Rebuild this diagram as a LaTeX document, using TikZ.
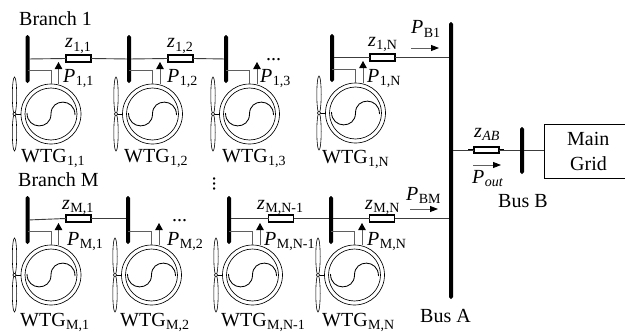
\documentclass[tikz,border=0pt]{standalone}
\usepackage{fontspec}
\setmainfont{Liberation Serif}
\usepackage{xcolor}
\definecolor{wiregray}{RGB}{60,60,60}
\definecolor{stubgray}{RGB}{95,95,95}
\usetikzlibrary{arrows.meta}
\tikzset{
    wire/.style={line width=0.9pt,draw=wiregray},
    lead/.style={line width=1.6pt},
    stub/.style={line width=0.9pt,draw=stubgray},
    busbar/.style={fill=black,rounded corners=1.9pt,minimum width=4pt,inner sep=0pt,outer sep=0pt},
    imped/.style={draw,line width=1.8pt,fill=white,minimum width=25pt,minimum height=6.5pt,inner sep=0pt,outer sep=0pt},
    flow/.style={line width=0.9pt,draw=stubgray,-{Triangle[length=7pt,width=7.5pt,color=black,fill=black]}},
    hflow/.style={line width=0.9pt,draw=stubgray,-{Triangle[length=8pt,width=6pt,color=black,fill=black]}},
    gen/.style={draw,circle,line width=0.65pt,inner sep=0pt,outer sep=0pt},
    blade/.style={line width=0.6pt},
    lab/.style={inner sep=0pt,anchor=base west,font=\fontsize{20}{20}\selectfont},
    gridbox/.style={draw,line width=0.8pt,minimum width=84pt,minimum height=54pt,inner sep=0pt}
}
\newcommand{\sbs}[1]{\kern0.4pt\raisebox{-3.2pt}{\fontsize{14}{14}\selectfont #1}}
\newcommand{\pw}[1]{\textit{P}\sbs{#1}}
\newcommand{\zz}[1]{\textit{z}\sbs{#1}}
% turbine with its bus: #1 name, #2 bus x, #3 generator centre y
\newcommand{\wtg}[3]{
    \begin{scope}[shift={(#2,#3)}]
    \node[busbar,minimum height=48pt] (bus#1) at (0,-55) {};
    \node[gen,minimum size=60pt] (gen#1) at (23.5,0) {};
    \node[gen,minimum size=52pt] (rot#1) at (23.5,0) {};
    \coordinate (hub#1) at (-13,0);
    \draw[blade] (-13,-18.5) ellipse [x radius=2.2,y radius=18.5];
    \draw[blade] (-13,18.5) ellipse [x radius=2.2,y radius=18.5];
    \draw[blade] (hub#1) -- (gen#1.west);
    \node[draw,circle,fill=white,line width=0.5pt,minimum size=3.6pt,inner sep=0pt] (nose#1) at (hub#1) {};
    \draw[line width=0.85pt] (-0.5,-1) .. controls (-0.5,16) and (23.5,16) .. (23.5,0) .. controls (23.5,-16) and (47.5,-16) .. (47.5,1);
    \draw[stub] (bus#1.center) ++(0,11) -| (gen#1.north);
    \coordinate (fb#1) at (31,-30.5);
    \coordinate (ft#1) at (31,-52);
    \draw[flow] (fb#1) -- (ft#1);
    \end{scope}
}
\newcommand{\imp}[3]{
    \node[imped] (z#1) at (#2,#3) {};
    \draw[lead] (z#1.west) -- ++(-6,0);
    \draw[lead] (z#1.east) -- ++(5,0);
}
\begin{document}
\begin{tikzpicture}[x=1pt,y=-1pt]
\useasboundingbox (0,0) rectangle (625,332);
\fill[white] (0,0) rectangle (625,332);

\node[busbar,minimum height=277pt] (busA) at (451,160.5) {};
\node[busbar,minimum height=47pt] (busB) at (522,150.5) {};
\node[gridbox] (grid) at (586,151) {};

\foreach \nm/\bx/\cy in {a/27.5/114,b/129/114,c/226/114,d/332/113,e/27.5/275,f/128/275,g/229/275,h/331/275}{
    \wtg{\nm}{\bx}{\cy}
}

% impedances
\imp{a}{78.5}{58.5}
\imp{b}{180.5}{58.5}
\imp{d}{382.5}{57.5}
\imp{e}{78.5}{218.5}
\imp{g}{281}{218.5}
\imp{h}{382}{218.5}
\imp{ab}{486.5}{150}

\draw[wire] (busa) -- (za.west);
\draw[wire] (za.east) -- (busb);
\draw[wire] (busb) -- (zb.west);
\draw[wire] (zb.east) -- (busc);
\draw[wire] (busd.east |- zd) -- (zd.west);
\draw[wire] (zd.east) -- (busA.west |- zd);
\draw[wire] (buse) -- (ze.west);
\draw[wire] (ze.east) -- (busf.west |- ze);
\draw[wire] (busg.east |- zg) -- (zg.west);
\draw[wire] (zg.east) -- (bush.west |- zg);
\draw[wire] (bush.east |- zh) -- (zh.west);
\draw[wire] (zh.east) -- (busA.west |- zh);
\draw[wire] (busA.east |- zab) -- (zab.west);
\draw[wire] (zab.east) -- (busB.west |- zab);
\draw[wire] (busB.east |- zab) -- (grid.west |- zab);

% power arrows
\coordinate (pb1l) at (411,48);
\coordinate (pb1r) at (439,48);
\coordinate (pbml) at (410,209);
\coordinate (pbmr) at (438,209);
\coordinate (poutl) at (473,165);
\coordinate (poutr) at (501,165);
\draw[hflow] (pb1l) -- (pb1r);
\draw[hflow] (pbml) -- (pbmr);
\draw[hflow] (poutl) -- (poutr);

% labels
\node[lab] (lbranch1) at (19,25) {Branch 1};
\node[lab] (lbranchm) at (18,186) {Branch M};
\node[lab] (lbusa) at (420,322) {Bus A};
\node[lab] (lbusb) at (498,207) {Bus B};
\node[lab] (lmain) at (567,145) {Main};
\node[lab] (lgrid) at (570,170) {Grid};

\foreach \nm/\lx/\ly/\txt in {za/65/48/{1,1},zb/167/48/{1,2},zd/368/46/{1,N},ze/62/209/{M,1},zg/257/209/{M,N-1},zh/365/209/{M,N}}{
    \node[lab] (l\nm) at (\lx,\ly) {\zz{\txt}};
}
\foreach \nm/\lx/\ly/\txt in {pa/63/82/{1,1},pb/167/82/{1,2},pc/260/82/{1,3},pd/367/82/{1,N},pe/67/245/{M,1},pf/167/245/{M,2},pg/264/245/{M,N-1},ph/367/245/{M,N},pbo/411/34/{B1},pbm/406/200/{BM}}{
    \node[lab] (l\nm) at (\lx,\ly) {\pw{\txt}};
}
\foreach \nm/\lx/\ly/\txt in {wa/21/162/{1,1},wb/124/162/{1,2},wc/222/162/{1,3},wd/322/163/{1,N},we/20/326.5/{M,1},wf/120/326.5/{M,2},wg/221/326.5/{M,N-1},wh/322/326.5/{M,N}}{
    \node[lab] (l\nm) at (\lx,\ly) {WTG\sbs{\txt}};
}
\node[lab] (lzab) at (474,137) {\zz{\textit{AB}}};
\node[lab] (lpout) at (472,183) {\pw{\textit{out}}};
\node[lab] (ldots1) at (266,60) {...};
\node[lab] (ldots2) at (172,221) {...};
\node[lab,anchor=base,rotate=90] (ldots3) at (215,183.5) {...};
\end{tikzpicture}
\end{document}
